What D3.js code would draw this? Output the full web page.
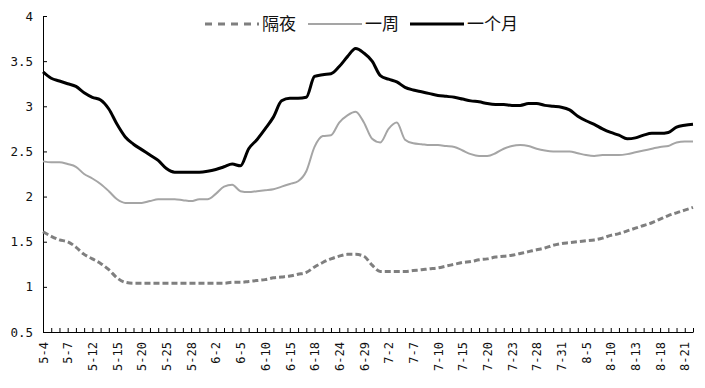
<!DOCTYPE html>
<html>
<head>
<meta charset="utf-8">
<script src="https://cdn.jsdelivr.net/npm/d3@7"></script>
<style>
  body { margin: 0; background: #fff; }
  svg text { font-family: "DejaVu Sans Mono", "Liberation Mono", monospace; }
</style>
</head>
<body>
<div id="chart"></div>
<script>
// trading days, 5-4 .. 8-24
var dates = ["5-4","5-5","5-6","5-7","5-8","5-11","5-12","5-13","5-14","5-15",
  "5-18","5-19","5-20","5-21","5-22","5-25","5-26","5-27","5-28","5-29",
  "6-1","6-2","6-3","6-4","6-5","6-8","6-9","6-10","6-11","6-12",
  "6-15","6-16","6-17","6-18","6-19","6-23","6-24","6-25","6-26","6-29",
  "6-30","7-1","7-2","7-3","7-6","7-7","7-8","7-9","7-10","7-13",
  "7-14","7-15","7-16","7-17","7-20","7-21","7-22","7-23","7-24","7-27",
  "7-28","7-29","7-30","7-31","8-3","8-4","8-5","8-6","8-7","8-10",
  "8-11","8-12","8-13","8-14","8-17","8-18","8-19","8-20","8-21","8-24"]

var overnight = [1.61,1.56,1.52,1.50,1.44,1.36,1.31,1.26,1.19,1.10,
  1.05,1.04,1.04,1.04,1.04,1.04,1.04,1.04,1.04,1.04,
  1.04,1.04,1.04,1.05,1.05,1.06,1.07,1.08,1.10,1.11,
  1.12,1.14,1.16,1.22,1.27,1.31,1.34,1.36,1.36,1.34,
  1.24,1.17,1.17,1.17,1.17,1.18,1.19,1.20,1.21,1.23,
  1.25,1.27,1.28,1.30,1.31,1.33,1.34,1.35,1.37,1.39,
  1.41,1.43,1.46,1.48,1.49,1.50,1.51,1.52,1.54,1.57,
  1.59,1.62,1.65,1.68,1.71,1.75,1.79,1.82,1.85,1.88]

var week = [2.39,2.38,2.38,2.36,2.33,2.25,2.20,2.14,2.06,1.97,
  1.93,1.93,1.93,1.95,1.97,1.97,1.97,1.96,1.95,1.97,
  1.97,2.03,2.11,2.13,2.06,2.05,2.06,2.07,2.08,2.11,
  2.14,2.17,2.28,2.55,2.67,2.68,2.82,2.90,2.94,2.82,
  2.64,2.60,2.75,2.82,2.63,2.59,2.58,2.57,2.57,2.56,
  2.55,2.51,2.47,2.45,2.45,2.48,2.53,2.56,2.57,2.56,
  2.53,2.51,2.50,2.50,2.50,2.48,2.46,2.45,2.46,2.46,
  2.46,2.47,2.49,2.51,2.53,2.55,2.56,2.60,2.61,2.61]

var month = [3.38,3.31,3.28,3.25,3.22,3.15,3.10,3.07,2.97,2.80,
  2.66,2.58,2.52,2.46,2.40,2.31,2.27,2.27,2.27,2.27,
  2.28,2.30,2.33,2.36,2.34,2.53,2.63,2.75,2.88,3.06,
  3.09,3.09,3.10,3.33,3.35,3.36,3.44,3.55,3.64,3.59,
  3.50,3.34,3.30,3.27,3.21,3.18,3.16,3.14,3.12,3.11,
  3.10,3.08,3.06,3.05,3.03,3.02,3.02,3.01,3.01,3.03,
  3.03,3.01,3.00,2.99,2.96,2.89,2.84,2.80,2.75,2.71,
  2.68,2.64,2.65,2.68,2.70,2.70,2.71,2.77,2.79,2.80]

var yTicks = [0.5,1,1.5,2,2.5,3,3.5,4]
var seriesNames = ["隔夜","一周","一个月"]

const W = 705, H = 388
const margin = {top: 16, right: 12, bottom: 56, left: 43}

const svg = d3.select("#chart").append("svg")
  .attr("width", W).attr("height", H)

const x = d3.scalePoint()
  .domain(dates)
  .range([margin.left, W - margin.right])

const y = d3.scaleLinear()
  .domain([0.5, 4])
  .range([H - margin.bottom, margin.top])

// y axis, ticks inward
svg.append("g")
  .attr("transform", `translate(${margin.left},0)`)
  .call(d3.axisLeft(y).tickValues(yTicks).tickSize(-4).tickSizeOuter(0).tickPadding(10).tickFormat(d3.format("")))
  .call(g => g.selectAll("text").attr("font-size", 12.5).attr("fill", "#111").style("font-family", "DejaVu Sans Mono"))
  .call(g => g.selectAll("line, path").attr("stroke", "#000"))

// x axis, label every third day
svg.append("g")
  .attr("transform", `translate(0,${H - margin.bottom})`)
  .call(d3.axisBottom(x).tickSize(-4).tickSizeOuter(0)
    .tickFormat((d, i) => i % 3 === 0 ? d : ""))
  .call(g => g.selectAll("line, path").attr("stroke", "#000"))
  .selectAll("text")
    .attr("font-size", 12)
    .attr("fill", "#111")
    .style("font-family", "DejaVu Sans Mono")
    .attr("text-anchor", "end")
    .attr("transform", "rotate(-90)")
    .attr("x", -10)
    .attr("y", 0)
    .attr("dy", "0.35em")

const line = d3.line()
  .x((d, i) => x(dates[i]))
  .y(d => y(d))
  .curve(d3.curveMonotoneX)

const styles = [
  {data: overnight, stroke: "#7f7f7f", width: 3, dash: "6,3", legDash: "7,6"},
  {data: week, stroke: "#a5a5a5", width: 2, dash: null, legDash: null},
  {data: month, stroke: "#000", width: 3, dash: null, legDash: null}
]

styles.forEach(function (s) {
  svg.append("path")
    .datum(s.data)
    .attr("fill", "none")
    .attr("stroke", s.stroke)
    .attr("stroke-width", s.width)
    .attr("stroke-dasharray", s.dash)
    .attr("stroke-linejoin", "round")
    .attr("d", line)
})

// legend
const legX = [205, 308, 410]
const legend = svg.append("g")
seriesNames.forEach(function (name, i) {
  let s = styles[i]
  legend.append("line")
    .attr("x1", legX[i]).attr("x2", legX[i] + 54)
    .attr("y1", 24).attr("y2", 24)
    .attr("stroke", s.stroke)
    .attr("stroke-width", s.width)
    .attr("stroke-dasharray", s.legDash)
  legend.append("text")
    .attr("x", legX[i] + 57)
    .attr("y", 24)
    .attr("dy", "0.36em")
    .attr("font-size", 17)
    .style("font-family", "Noto Sans CJK SC")
    .attr("fill", "#111")
    .text(name)
})
</script>
</body>
</html>
